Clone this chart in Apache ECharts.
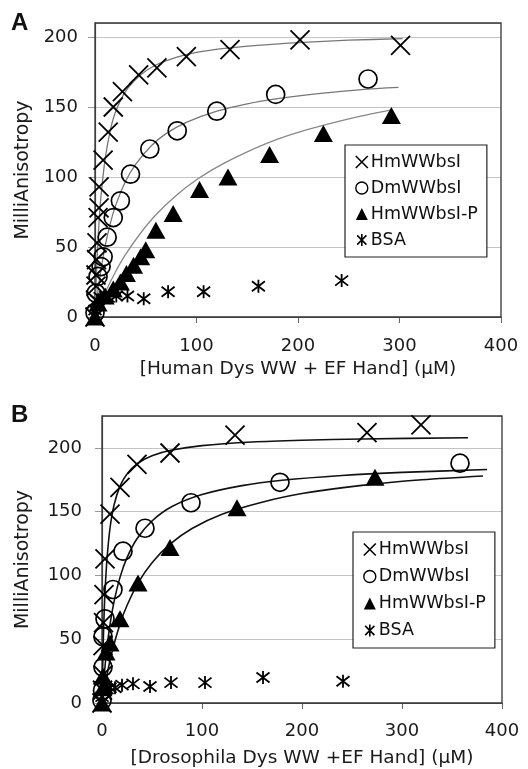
<!DOCTYPE html>
<html>
<head>
<meta charset="utf-8">
<script src="https://cdn.jsdelivr.net/npm/echarts@6/dist/echarts.min.js"></script>
<style>
html,body{margin:0;padding:0;background:#fff;}
#c{width:528px;height:769px;}
</style>
</head>
<body>
<div id="c"></div>
<script>
// ---------- data ----------
const seriesNames = ['HmWWbsI', 'DmWWbsI', 'HmWWbsI-P', 'BSA'];
const panelLabels = ['A', 'B'];
const xTitles = ['[Human Dys WW + EF Hand] (µM)', '[Drosophila Dys WW +EF Hand] (µM)'];
const yTitle = 'MilliAnisotropy';

// Panel A points
const hmA = [[0,0],[0.5,12],[1,22],[1,30],[1.5,41],[2,53],[3,71],[4,78],[4,93],[8,112],[13,132],[18,150],[27,161],[43,173],[61,178],[90,186],[133,191],[202,198],[301,194]];
const dmA = [[0,3],[1,17],[3,29],[6,36],[8,43],[12,57],[18,71],[25,83],[35,102],[54,120],[81,133],[120,147],[178,159],[269,170]];
const hmpA = [[0,0],[3,10],[10,15],[18,20],[25,25],[31,31],[38,37],[45,43],[50,48],[60,62],[77,74],[103,91],[131,100],[172,116],[225,131],[292,144]];
const bsaA = [[0,5],[2,12],[5,14],[9,13],[13,14],[21,15],[32,15],[48,13],[72,18],[107,18],[161,22],[243,26]];

// Panel A fitted curves
const fitHmA = [[0,0],[1,23],[2,41],[4,68],[6,87],[10,113],[15,133],[20,146],[30,161],[45,173],[60,180],[80,185.5],[100,189],[130,192],[160,194],[200,196],[250,197.7],[303,198.8]];
const fitDmA = [[0,0],[2,13],[5,29.5],[10,50.7],[15,66.5],[20,79],[30,96.8],[40,109],[55,122],[70,131],[90,139],[120,147],[150,152.3],[180,156],[220,159.6],[260,162.3],[299,164]];
const fitHmpA = [[0,0],[10,17.4],[20,32],[30,44.5],[45,60],[60,73],[80,86.8],[100,98],[125,109],[150,118],[180,127],[210,134],[250,141.6],[292,148]];

// Panel B points
const hmB = [[0,0],[0.5,10],[1,22],[1,45],[1.5,63],[2,85],[3,113],[8,148],[18,169],[35,187],[68,196],[133,210],[265,212],[319,218]];
const dmB = [[0,2],[0.5,10],[1,28],[1,52],[3,66],[11,89],[21,119],[43,137],[89,157],[178,173],[358,188]];
const hmpB = [[0,0],[1,12],[1,21],[4,40],[8,47],[18,66],[36,94],[68,122],[135,153],[273,177]];
const bsaB = [[0,5],[5,11],[8,12],[13,12],[20,14],[31,15],[48,13],[69,16],[103,16],[161,20],[241,17]];

// Panel B fitted curves
const fitHmB = [[0,0],[1,40],[2,67],[3,87],[5,113],[8,137],[12,155],[18,170],[25,179.6],[35,187.5],[50,193.8],[70,198.3],[100,201.8],[150,204.6],[200,206],[260,207],[366,208]];
const fitDmB = [[0,0],[2,20],[5,43.6],[8,61.4],[12,79.3],[18,98.5],[25,114],[35,128.8],[50,142.7],[70,154],[100,163.4],[140,170.4],[180,174.6],[240,178.4],[300,180.8],[385,183]];
const fitHmpB = [[0,0],[5,22],[10,40],[18,62],[25,76.4],[36,94],[50,110],[68,124.5],[90,136.8],[120,148],[160,157.4],[200,164.2],[260,170.6],[320,175],[381,178]];

const xTickInterval = 100;
const yTickInterval = 50;

// ---------- styling ----------
const FONT = 'DejaVu Sans';
const XPATH = 'path://M0,0L10,10M10,0L0,10';
const STARPATH = 'path://M0,0L10,10M10,0L0,10M5,-1.5L5,11.5';

const lineStroke = {color:'rgba(0,0,0,0)', borderColor:'#000', borderWidth:1.8, opacity:1};

function markerSeries(name, data, idx) {
  const base = {type:'scatter', name, data, xAxisIndex:idx, yAxisIndex:idx, z:5, silent:true};
  if (name === 'HmWWbsI') return Object.assign(base, {symbol:XPATH, symbolSize:19, itemStyle:lineStroke});
  if (name === 'DmWWbsI') return Object.assign(base, {symbol:'circle', symbolSize:18, itemStyle:{color:'rgba(255,255,255,0)', borderColor:'#000', borderWidth:1.7, opacity:1}});
  if (name === 'HmWWbsI-P') return Object.assign(base, {symbol:'triangle', symbolSize:[19,17], itemStyle:{color:'#000', opacity:1}});
  return Object.assign(base, {symbol:STARPATH, symbolSize:13, itemStyle:lineStroke});
}
function curve(data, idx, color, w) {
  return {type:'line', data, xAxisIndex:idx, yAxisIndex:idx, showSymbol:false, symbol:'none', smooth:0.3,
          lineStyle:{color, width:w}, z:3, silent:true};
}
function legendFor(left, top, lh) {
  return {
    orient:'vertical', left, top, itemGap:0, padding:[4,9,4,10],
    backgroundColor:'#fff', borderColor:'#222', borderWidth:1.2,
    itemWidth:12, itemHeight:12, selectedMode:false,
    textStyle:{fontFamily:FONT, fontSize:17.5, color:'#111', lineHeight:lh, padding:[0,0,0,-2]},
    data:[
      {name:'HmWWbsI', icon:XPATH, itemStyle:{color:'rgba(0,0,0,0)', borderColor:'#000', borderWidth:1.6, opacity:1}},
      {name:'DmWWbsI', icon:'circle', itemStyle:{color:'#fff', borderColor:'#000', borderWidth:1.4, opacity:1}},
      {name:'HmWWbsI-P', icon:'triangle', itemStyle:{color:'#000', opacity:1}},
      {name:'BSA', icon:STARPATH, itemStyle:{color:'rgba(0,0,0,0)', borderColor:'#000', borderWidth:1.6, opacity:1}}
    ]
  };
}
function xAx(idx, gap, margin) {
  return {type:'value', gridIndex:idx, min:0, max:400, interval:xTickInterval,
    name:xTitles[idx], nameLocation:'middle', nameGap:gap,
    nameTextStyle:{fontFamily:FONT, fontSize:18.5, color:'#1a1a1a'},
    axisLine:{show:true, lineStyle:{color:'#666', width:1.2}},
    axisTick:{show:true, length:6, lineStyle:{color:'#666'}},
    axisLabel:{fontFamily:FONT, fontSize:18, color:'#1a1a1a', margin:margin},
    splitLine:{show:false}};
}
function yAx(idx, max, gap, margin) {
  return {type:'value', gridIndex:idx, min:0, max, interval:yTickInterval,
    name:yTitle, nameLocation:'middle', nameGap:gap, nameRotate:90,
    nameTextStyle:{fontFamily:FONT, fontSize:19, color:'#1a1a1a'},
    axisLine:{show:true, lineStyle:{color:'#555', width:1.2}},
    axisTick:{show:true, length:7, lineStyle:{color:'#999'}},
    axisLabel:{fontFamily:FONT, fontSize:18, color:'#1a1a1a', margin:margin, showMaxLabel:false},
    splitLine:{show:true, lineStyle:{color:'#c4c4c4', width:1.2}}};
}

const chart = echarts.init(document.getElementById('c'), null, {renderer:'canvas'});
const series = [];
series.push(curve(fitHmA, 0, '#777', 1.3));
series.push(curve(fitDmA, 0, '#777', 1.3));
series.push(curve(fitHmpA, 0, '#888', 1.3));
series.push(curve(fitHmB, 1, '#111', 1.6));
series.push(curve(fitDmB, 1, '#111', 1.6));
series.push(curve(fitHmpB, 1, '#111', 1.6));
[hmA, dmA, hmpA, bsaA].forEach((d,i)=>series.push(markerSeries(seriesNames[i], d, 0)));
[hmB, dmB, hmpB, bsaB].forEach((d,i)=>series.push(markerSeries(seriesNames[i], d, 1)));

chart.setOption({
  animation:false,
  backgroundColor:'#fff',
  grid:[
    {left:95, right:27, top:23, bottom:452, show:true, borderColor:'#333', borderWidth:1.3, backgroundColor:'rgba(0,0,0,0)', z:1},
    {left:102, right:26, top:416, bottom:65, show:true, borderColor:'#333', borderWidth:1.3, backgroundColor:'rgba(0,0,0,0)', z:1}
  ],
  xAxis:[xAx(0, 43, 20), xAx(1, 46, 19)],
  yAxis:[yAx(0, 210, 58, 17), yAx(1, 225, 69, 20)],
  legend:[legendFor(345, 145, 26), legendFor(353, 532, 27)],
  graphic:[
    {type:'text', left:11, top:11, style:{text:panelLabels[0], font:'bold 24px "Liberation Sans"', fill:'#111'}},
    {type:'text', left:11, top:403, style:{text:panelLabels[1], font:'bold 24px "Liberation Sans"', fill:'#111'}}
  ],
  series
});
</script>
</body>
</html>
